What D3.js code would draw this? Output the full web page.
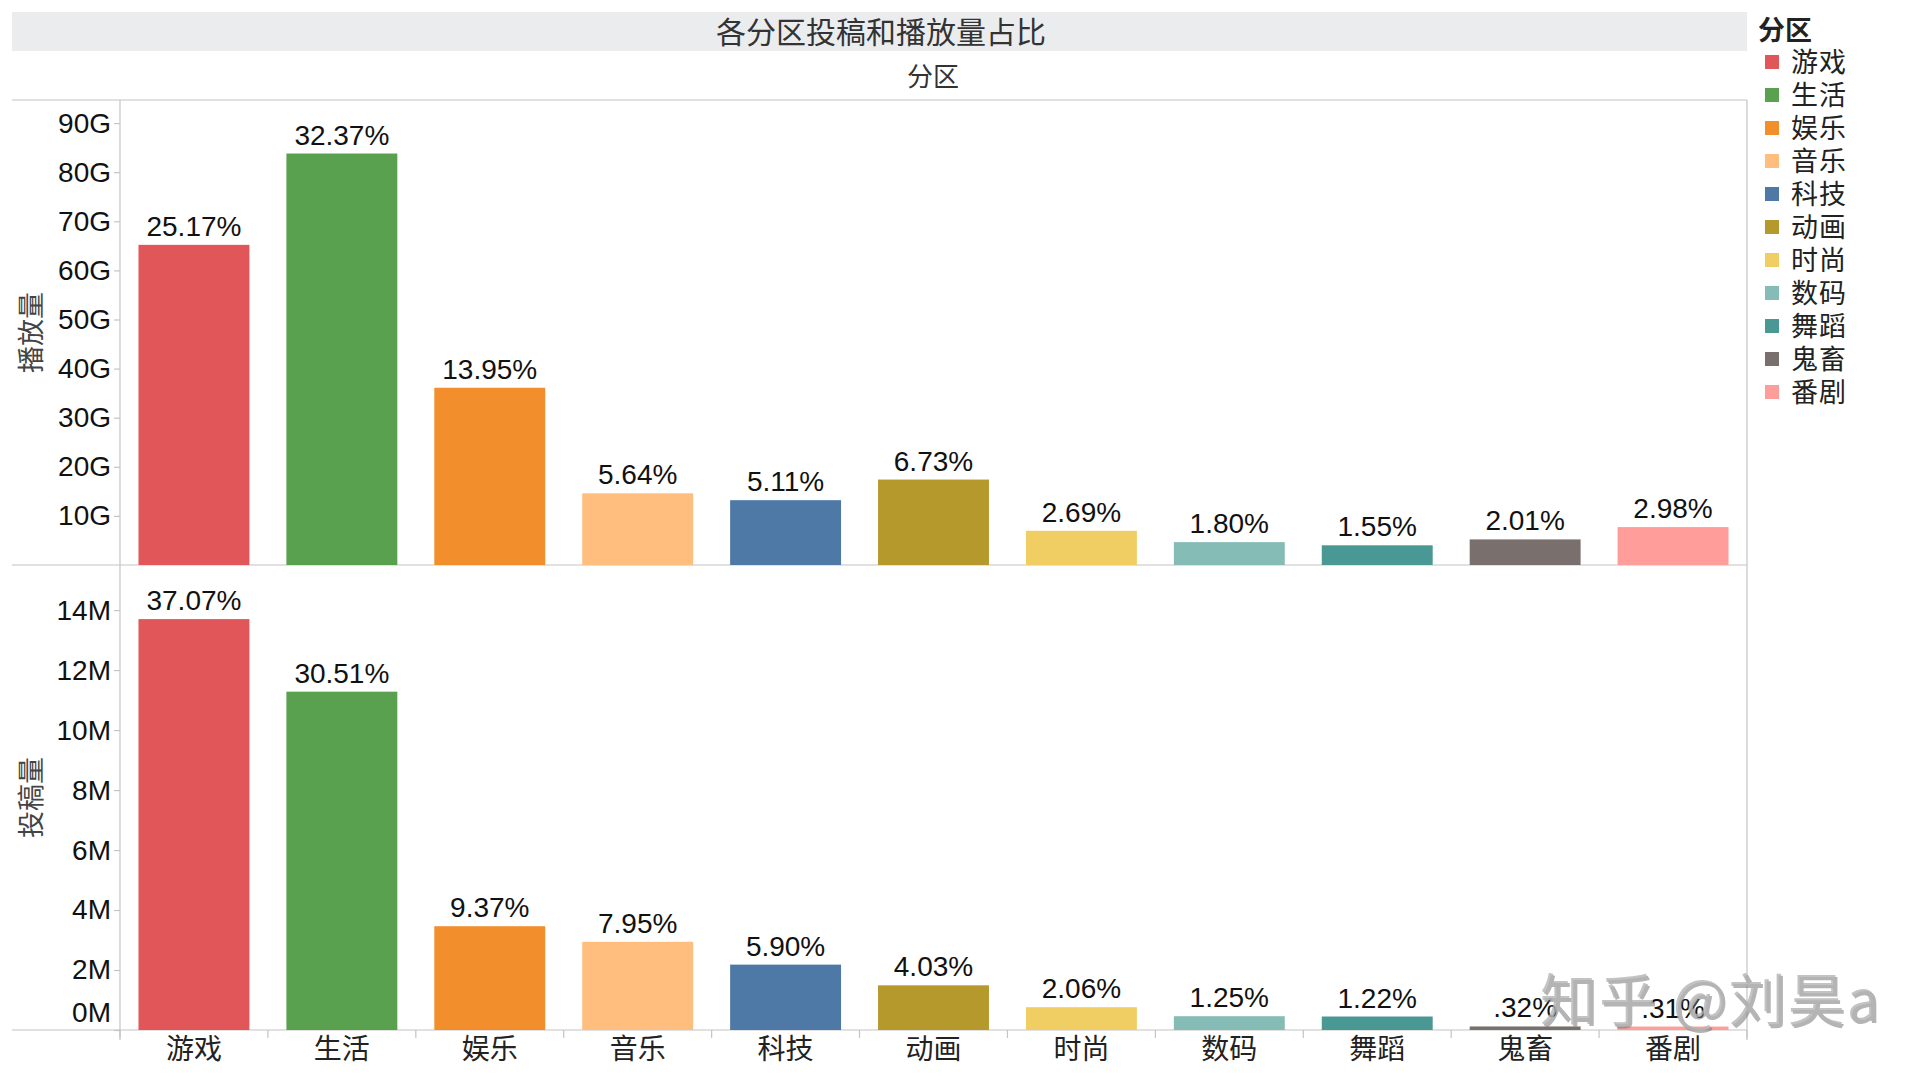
<!DOCTYPE html>
<html><head><meta charset="utf-8">
<script src="https://cdn.jsdelivr.net/npm/d3@7"></script>
<style>body{margin:0;background:#fff}</style>
</head><body><svg id="c" width="1920" height="1080"></svg>
<script>
const categories = ["游戏","生活","娱乐","音乐","科技","动画","时尚","数码","舞蹈","鬼畜","番剧"];
const playsG = [65.2, 83.8, 36.1, 14.6, 13.2, 17.4, 6.97, 4.66, 4.01, 5.21, 7.72];
const playLabels = ["25.17%","32.37%","13.95%","5.64%","5.11%","6.73%","2.69%","1.80%","1.55%","2.01%","2.98%"];
const postsM = [13.70, 11.28, 3.46, 2.94, 2.18, 1.49, 0.76, 0.46, 0.45, 0.118, 0.115];
const postLabels = ["37.07%","30.51%","9.37%","7.95%","5.90%","4.03%","2.06%","1.25%","1.22%",".32%",".31%"];
const playTicks = [10,20,30,40,50,60,70,80,90];
const postTicks = [0,2,4,6,8,10,12,14];
const colors = ["#e15759","#59a14f","#f28e2b","#ffbe7d","#4e79a7","#b6992d","#f1ce63","#86bcb6","#499894","#79706e","#ff9d9a"];

const LAT = "'Liberation Sans', Arial, sans-serif";
const CJK = "'Noto Sans CJK SC', sans-serif";
const lineC = "#c4c4c4";
const svg = d3.select("#c");

const L = 120, R = 1747, TOP = 100, MID = 565, BOT = 1030;
const x = d3.scaleBand().domain(categories).range([L, R]).paddingInner(0.25).paddingOuter(0.125);
const color = d3.scaleOrdinal().domain(categories).range(colors);
const yTop = d3.scaleLinear().domain([0, 94.7]).range([MID, TOP]);
const yBot = d3.scaleLinear().domain([0, 15.47]).range([BOT, MID + 1]);

// title band
svg.append("rect").attr("x", 12).attr("y", 12).attr("width", R - 12).attr("height", 39).attr("fill", "#ebecee");
svg.append("text").attr("x", 881).attr("y", 32).attr("dy", "0.36em").attr("text-anchor", "middle")
  .style("font-family", CJK).style("font-size", "30px").attr("fill", "#333").text("各分区投稿和播放量占比");
svg.append("text").attr("x", 933).attr("y", 77).attr("dy", "0.36em").attr("text-anchor", "middle")
  .style("font-family", CJK).style("font-size", "26px").attr("fill", "#333").text("分区");

// frame lines
const g = svg.append("g");
[[12, TOP, R, TOP], [12, MID, R, MID], [12, BOT, R, BOT], [L, TOP, L, BOT + 10], [R, TOP, R, BOT + 10]]
  .forEach(d => g.append("line").attr("x1", d[0]).attr("y1", d[1]).attr("x2", d[2]).attr("y2", d[3])
    .attr("stroke", lineC).attr("stroke-width", 1.2));

// x boundary ticks
const gap = (x.step() - x.bandwidth()) / 2;
const bounds = categories.map(c => x(c) - gap).concat([x(categories[categories.length - 1]) + x.bandwidth() + gap]);
g.selectAll(".xt").data(bounds).join("line").attr("x1", d => d).attr("x2", d => d)
  .attr("y1", BOT).attr("y2", BOT + 8).attr("stroke", lineC).attr("stroke-width", 1.2);

// bars top
svg.append("g").selectAll("rect").data(categories).join("rect")
  .attr("x", d => x(d)).attr("width", x.bandwidth())
  .attr("y", (d, i) => yTop(playsG[i])).attr("height", (d, i) => yTop(0) - yTop(playsG[i]))
  .attr("fill", d => color(d));
svg.append("g").selectAll("text").data(categories).join("text")
  .attr("x", d => x(d) + x.bandwidth() / 2).attr("y", (d, i) => yTop(playsG[i]) - 9)
  .attr("text-anchor", "middle").style("font-family", LAT).style("font-size", "28px").attr("fill", "#111")
  .text((d, i) => playLabels[i]);

// bars bottom
svg.append("g").selectAll("rect").data(categories).join("rect")
  .attr("x", d => x(d)).attr("width", x.bandwidth())
  .attr("y", (d, i) => yBot(postsM[i])).attr("height", (d, i) => yBot(0) - yBot(postsM[i]))
  .attr("fill", d => color(d));
svg.append("g").selectAll("text").data(categories).join("text")
  .attr("x", d => x(d) + x.bandwidth() / 2).attr("y", (d, i) => yBot(postsM[i]) - 9)
  .attr("text-anchor", "middle").style("font-family", LAT).style("font-size", "28px").attr("fill", "#111")
  .text((d, i) => postLabels[i]);

// y axes
function styleAxis(sel) {
  sel.select(".domain").remove();
  sel.selectAll(".tick line").attr("stroke", lineC).attr("stroke-width", 1.2);
  sel.selectAll(".tick text").style("font-family", LAT).style("font-size", "28px").attr("fill", "#111");
}
svg.append("g").attr("transform", `translate(${L},0)`)
  .call(d3.axisLeft(yTop).tickValues(playTicks).tickFormat(d => d + "G").tickSize(6).tickPadding(3))
  .call(styleAxis);
const ab = svg.append("g").attr("transform", `translate(${L},0)`)
  .call(d3.axisLeft(yBot).tickValues(postTicks).tickFormat(d => d + "M").tickSize(6).tickPadding(3))
  .call(styleAxis);
ab.selectAll(".tick").filter(d => d === 0).select("text").attr("transform", "translate(0,-17)");

// x axis labels
svg.append("g").selectAll("text").data(categories).join("text")
  .attr("x", d => x(d) + x.bandwidth() / 2).attr("y", 1049).attr("dy", "0.36em")
  .attr("text-anchor", "middle").style("font-family", CJK).style("font-size", "28px").attr("fill", "#222")
  .text(d => d);

// y titles
[["播放量", (TOP + MID) / 2], ["投稿量", (MID + BOT) / 2]].forEach(([t, cy]) => {
  svg.append("text").attr("transform", `translate(31,${cy}) rotate(-90)`).attr("dy", "0.36em")
    .attr("text-anchor", "middle").style("font-family", CJK).style("font-size", "27px").attr("fill", "#444").text(t);
});

// legend
const lg = svg.append("g");
lg.append("text").attr("x", 1758).attr("y", 30).attr("dy", "0.36em").style("font-family", CJK)
  .style("font-size", "27px").style("font-weight", "bold").attr("fill", "#222").text("分区");
const rows = lg.selectAll(".row").data(categories).join("g").attr("transform", (d, i) => `translate(0,${62 + i * 33})`);
rows.append("rect").attr("x", 1765).attr("y", -7).attr("width", 14).attr("height", 14).attr("fill", d => color(d));
rows.append("text").attr("x", 1791).attr("y", 0).attr("dy", "0.36em").style("font-family", CJK)
  .style("font-size", "27px").style("letter-spacing", "1px").attr("fill", "#222").text(d => d);

// watermark (shadow + face)
const wm = svg.append("g").style("font-family", CJK).style("font-size", "57px").style("letter-spacing", "2px");
wm.append("text").attr("x", 1542).attr("y", 1002).attr("dy", "0.36em")
  .attr("fill", "#777").attr("fill-opacity", 0.55).text("知乎 @刘昊a");
wm.append("text").attr("x", 1540).attr("y", 1000).attr("dy", "0.36em")
  .attr("fill", "#b4b4b4").attr("fill-opacity", 0.8).text("知乎 @刘昊a");
</script></body></html>
